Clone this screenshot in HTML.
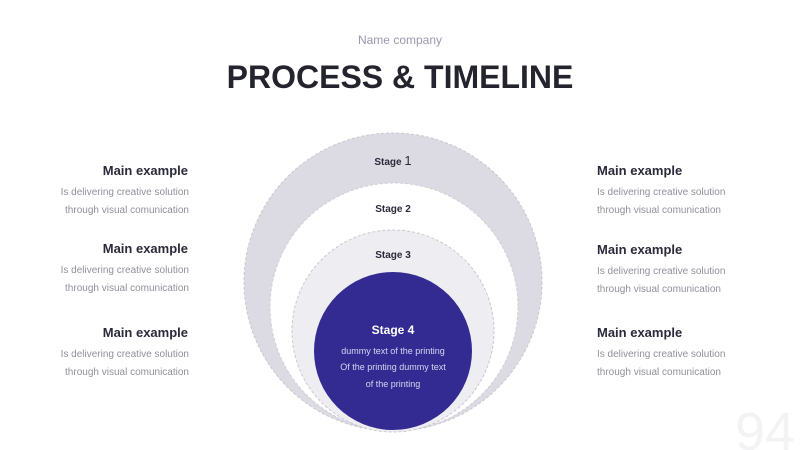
<!DOCTYPE html>
<html><head><meta charset="utf-8"><style>
body{margin:0;width:800px;height:450px;background:#fff;position:relative;overflow:hidden;font-family:"Liberation Sans",sans-serif}
.a{position:absolute;white-space:nowrap}
.h{font-size:13px;color:#2a2a3a;font-weight:bold}
.s{font-size:10px;color:#90909b;line-height:18px}
.r{text-align:right;width:200px}
</style></head><body>
<div class="a" style="left:0;width:800px;text-align:center;top:33px;font-size:12px;color:#9a98b0">Name company</div>
<div class="a" style="left:0;width:800px;text-align:center;top:59px;font-size:32px;font-weight:bold;color:#24242e;letter-spacing:0px">PROCESS &amp; TIMELINE</div>
<svg class="a" style="left:0;top:0" width="800" height="450">
<circle cx="393" cy="282" r="149" fill="#dcdbe3" stroke="#c9c8d2" stroke-dasharray="3 2"/>
<circle cx="394" cy="307" r="124" fill="#fff" stroke="#d0cfd8" stroke-dasharray="3 2"/>
<circle cx="393" cy="331" r="101" fill="#ededf2" stroke="#c9c8d2" stroke-dasharray="3 2"/>
<circle cx="393" cy="351" r="79" fill="#332b92"/>
<g font-family="Liberation Sans,sans-serif" text-anchor="middle">
<text x="393" y="165" font-size="10" font-weight="bold" fill="#2a2a3a">Stage <tspan font-size="13" font-weight="normal">1</tspan></text>
<text x="393" y="212" font-size="10" font-weight="bold" fill="#2a2a3a">Stage 2</text>
<text x="393" y="258" font-size="10" font-weight="bold" fill="#2a2a3a">Stage 3</text>
<text x="393" y="334" font-size="12" font-weight="bold" fill="#fff">Stage 4</text>
<text x="393" y="354" font-size="9" fill="#d8d6f0">dummy text of the printing</text>
<text x="393" y="370" font-size="9" fill="#d8d6f0">Of the printing dummy text</text>
<text x="393" y="387" font-size="9" fill="#d8d6f0">of the printing</text>
</g>
<text x="735" y="450" font-family="Liberation Sans,sans-serif" font-size="54" fill="#f3f3f5">94</text>
</svg>
<div class="a h r" style="left:-12px;top:163px">Main example</div>
<div class="a s r" style="left:-11px;top:184px">Is delivering creative solution<br>through visual comunication</div>
<div class="a h r" style="left:-12px;top:241px">Main example</div>
<div class="a s r" style="left:-11px;top:262px">Is delivering creative solution<br>through visual comunication</div>
<div class="a h r" style="left:-12px;top:325px">Main example</div>
<div class="a s r" style="left:-11px;top:346px">Is delivering creative solution<br>through visual comunication</div>
<div class="a h" style="left:597px;top:163px">Main example</div>
<div class="a s" style="left:597px;top:184px">Is delivering creative solution<br>through visual comunication</div>
<div class="a h" style="left:597px;top:242px">Main example</div>
<div class="a s" style="left:597px;top:263px">Is delivering creative solution<br>through visual comunication</div>
<div class="a h" style="left:597px;top:325px">Main example</div>
<div class="a s" style="left:597px;top:346px">Is delivering creative solution<br>through visual comunication</div>
</body></html>
